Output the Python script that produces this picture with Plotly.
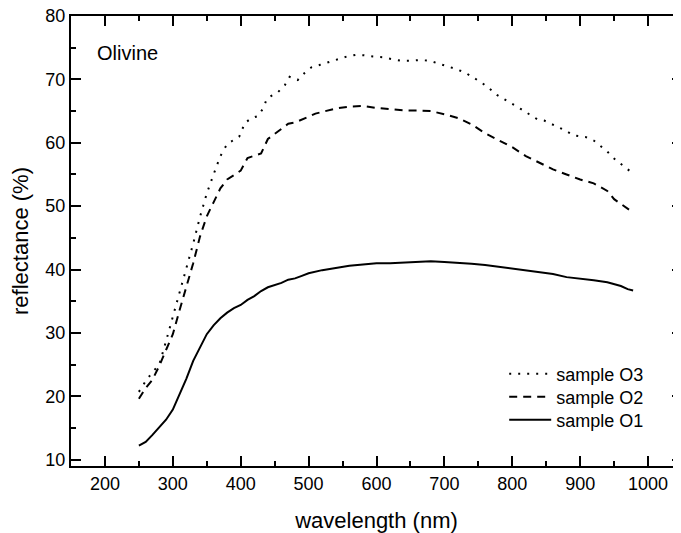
import plotly.graph_objects as go

# sample O1 (solid)
wl_o1 = [250, 260, 270, 280, 290, 300, 310, 320, 330, 340, 350, 360, 370, 380, 390,
         400, 410, 420, 430, 440, 450, 460, 470, 480, 490, 500, 520, 540, 560, 580,
         600, 620, 640, 660, 680, 700, 720, 740, 760, 780, 800, 820, 840, 860, 880,
         900, 920, 940, 960, 970, 978]
r_o1 = [12.2, 12.8, 13.9, 15.1, 16.3, 17.9, 20.3, 22.8, 25.6, 27.8, 29.8, 31.2, 32.3, 33.2, 33.9,
        34.4, 35.2, 35.8, 36.6, 37.2, 37.5, 37.9, 38.4, 38.6, 39.0, 39.4, 39.9, 40.3, 40.6, 40.8,
        41.0, 41.0, 41.1, 41.3, 41.3, 41.2, 41.1, 40.9, 40.7, 40.4, 40.1, 39.8, 39.6, 39.3, 38.8,
        38.6, 38.3, 38.0, 37.4, 36.9, 36.7]

# sample O2 (dashed)
wl_o2 = [250, 260, 270, 280, 290, 300, 310, 320, 330, 340, 350, 360, 370, 380, 390,
         400, 410, 420, 430, 440, 450, 460, 470, 480, 490, 500, 510, 520, 540, 560,
         580, 600, 620, 640, 660, 680, 700, 720, 740, 760, 780, 800, 820, 840, 860,
         880, 900, 920, 940, 950, 965, 978]
r_o2 = [19.6, 21.3, 22.6, 24.8, 27.3, 29.8, 33.6, 37.3, 41.0, 45.2, 48.4, 50.6, 52.8, 54.2, 54.9,
        55.6, 57.6, 58.0, 58.3, 60.6, 61.4, 62.2, 63.0, 63.2, 63.6, 64.1, 64.6, 64.9, 65.4, 65.7,
        65.8, 65.5, 65.3, 65.1, 65.1, 65.0, 64.5, 63.9, 62.9, 61.5, 60.4, 59.3, 57.9, 56.9, 55.8,
        55.0, 54.2, 53.6, 52.4, 51.1, 50.0, 49.0]

# sample O3 (dotted)
wl_o3 = [250, 260, 270, 280, 290, 300, 310, 320, 330, 340, 350, 360, 370, 380, 390,
         398, 406, 416, 425, 433, 438, 445, 455, 465, 472, 484, 494, 504, 517, 531,
         543, 556, 569, 582, 595, 609, 622, 636, 650, 664, 678, 692, 705, 718, 731,
         744, 756, 768, 778, 790, 801, 813, 825, 837, 847, 857, 868, 879, 889, 898,
         908, 920, 930, 940, 950, 960, 972, 976]
r_o3 = [20.7, 22.4, 23.8, 25.0, 28.7, 32.5, 36.3, 40.5, 44.1, 48.3, 52.0, 55.0, 57.9, 59.8, 60.4,
        61.0, 63.1, 63.9, 64.2, 65.4, 66.8, 67.4, 68.0, 69.1, 70.4, 69.9, 71.0, 71.9, 72.3, 72.8,
        73.2, 73.6, 73.85, 73.8, 73.6, 73.5, 73.2, 72.95, 72.95, 73.05, 72.95, 72.5, 72.1, 71.6, 71.05,
        70.2, 69.4, 68.4, 67.5, 66.75, 66.1, 65.3, 64.5, 63.7, 63.5, 63.0, 62.55, 61.9, 61.2, 61.1,
        60.9, 60.35, 59.5, 58.6, 57.5, 56.6, 55.55, 55.3]

FONT = "Liberation Sans, Arial, sans-serif"

fig = go.Figure()
# each series gets its own small legend so the row spacing can match
fig.add_trace(go.Scatter(x=wl_o3, y=r_o3, mode="lines", name="sample O3", legend="legend",
                         line=dict(color="black", width=2, dash="2px,7px")))
fig.add_trace(go.Scatter(x=wl_o2, y=r_o2, mode="lines", name="sample O2", legend="legend2",
                         line=dict(color="black", width=2, dash="8px,6px")))
fig.add_trace(go.Scatter(x=wl_o1, y=r_o1, mode="lines", name="sample O1", legend="legend3",
                         line=dict(color="black", width=2)))

axis_common = dict(
    showgrid=False, zeroline=False, showline=True, linecolor="black", linewidth=2,
    mirror="ticks", ticks="inside", ticklen=10, tickwidth=2, tickcolor="black",
    tickfont=dict(family=FONT, size=18, color="black"), ticklabeloverflow="allow",
    automargin=False,
)

leg_common = dict(xanchor="left", yanchor="middle", bgcolor="rgba(0,0,0,0)",
                  font=dict(family=FONT, size=18, color="black"), itemwidth=42)
LEG_X = 0.709

fig.update_layout(
    width=681, height=533,
    margin=dict(l=63, r=7, t=8, b=75, autoexpand=False),
    paper_bgcolor="white", plot_bgcolor="white",
    font=dict(family=FONT, color="black"),
    xaxis=dict(range=[150, 1050], dtick=100, tick0=0,
               minor=dict(dtick=50, ticks="inside", ticklen=5, tickwidth=2, tickcolor="black"),
               title=dict(text="wavelength (nm)", font=dict(family=FONT, size=22), standoff=20),
               **axis_common),
    yaxis=dict(range=[9, 80], dtick=10, tick0=0,
               minor=dict(dtick=5, ticks="inside", ticklen=5, tickwidth=2, tickcolor="black"),
               title=dict(text="reflectance (%)", font=dict(family=FONT, size=22), standoff=12),
               **axis_common),
    legend=dict(x=LEG_X, y=0.2044, **leg_common),
    legend2=dict(x=LEG_X, y=0.1533, **leg_common),
    legend3=dict(x=LEG_X, y=0.1022, **leg_common),
    showlegend=True,
    annotations=[dict(text="Olivine", xref="paper", yref="paper", x=0.039, y=0.918,
                      xanchor="left", yanchor="middle", showarrow=False,
                      font=dict(family=FONT, size=20, color="black"))],
)

fig.write_html("out.html")
